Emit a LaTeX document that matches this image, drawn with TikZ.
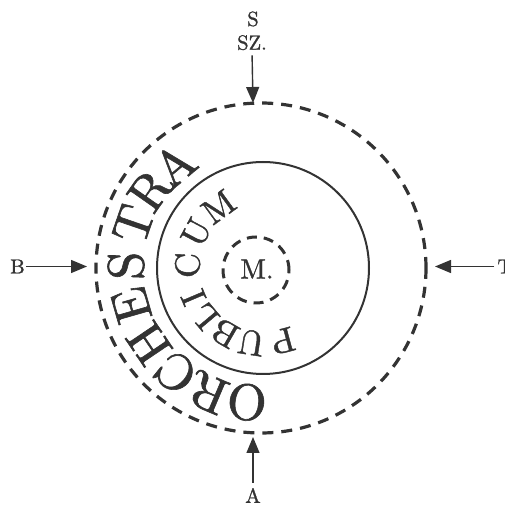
\documentclass[tikz,border=0pt]{standalone}
\usepackage{fontspec}
\newfontfamily\medfam{lmroman10-regular.otf}[FakeBold=1.2]
\usetikzlibrary{arrows.meta,calc}
\definecolor{ink}{HTML}{333333}
\newcommand{\heavy}[1]{\medfam\fontsize{#1}{#1}\selectfont}

\begin{document}
\begin{tikzpicture}[
  x=1pt,
  y=1pt,
  >={Triangle[length=16pt,width=13pt]},
  ring/.style={
    draw=ink,
    line width=3.2pt,
    dash pattern=on 11pt off 8pt
  },
  pointer/.style={
    ->,
    draw=ink,
    line width=1.4pt
  },
  tag/.style={
    text=ink,
    inner sep=1pt,
    font=\heavy{20.5}
  },
  bigletter/.style={
    text=ink,
    inner sep=0pt,
    font=\heavy{51}
  },
  smallletter/.style={
    text=ink,
    inner sep=0pt,
    font=\heavy{35}
  }
]
\useasboundingbox (0,0) rectangle (505,509);

\coordinate (hub) at (261,241);
\coordinate (core) at (263,241);
\coordinate (mid) at (256,239);

% rings
\draw[ring] (hub) circle[radius=165];
\draw[ink,line width=2pt] (core) circle[radius=106];
\draw[ink,line width=3pt,dash pattern=on 10pt off 7pt] (mid) circle[radius=33];

\node[text=ink,font=\heavy{28}] (mlabel) at (257,240) {M.};

% ORCHESTRA round the outer ring
\foreach \ch/\ang [count=\i] in {O/264,R/247,C/231,H/214,E/196,S/179,T/161,R/145,A/130}
  \node[bigletter,rotate=\ang-90] (orch-\i) at ($(hub)+(\ang:135)$) {\ch};

% PUBLICUM round the inner ring
\foreach \ch/\ang [count=\i] in {P/285,U/261,B/240,L/220,I/203,C/178,U/152,M/126}
  \node[smallletter,rotate=\ang-90] (publ-\i) at ($(core)+(\ang:75.5)$) {\ch};

% entrances
\node[tag] (labS) at (253,490) {S};
\node[tag] (labSZ) at (252,466.3) {SZ.};
\node[tag] (labB) at (17.5,242.5) {B};
\node[tag] (labT) at (505,242.5) {T};
\node[tag] (labA) at (253,13.5) {A};

\coordinate (tipS) at (253,406);
\coordinate (tipB) at (87,242.5);
\coordinate (tipT) at (435,242.5);
\coordinate (tipA) at (253,72);

\draw[pointer,shorten <=4pt] (labSZ.south) -- (tipS);
\draw[pointer] (labB.east) -- (tipB);
\draw[pointer,shorten <=2pt] (labT.west) -- (tipT);
\draw[pointer,shorten <=4pt] (labA.north) -- (tipA);

\end{tikzpicture}
\end{document}
